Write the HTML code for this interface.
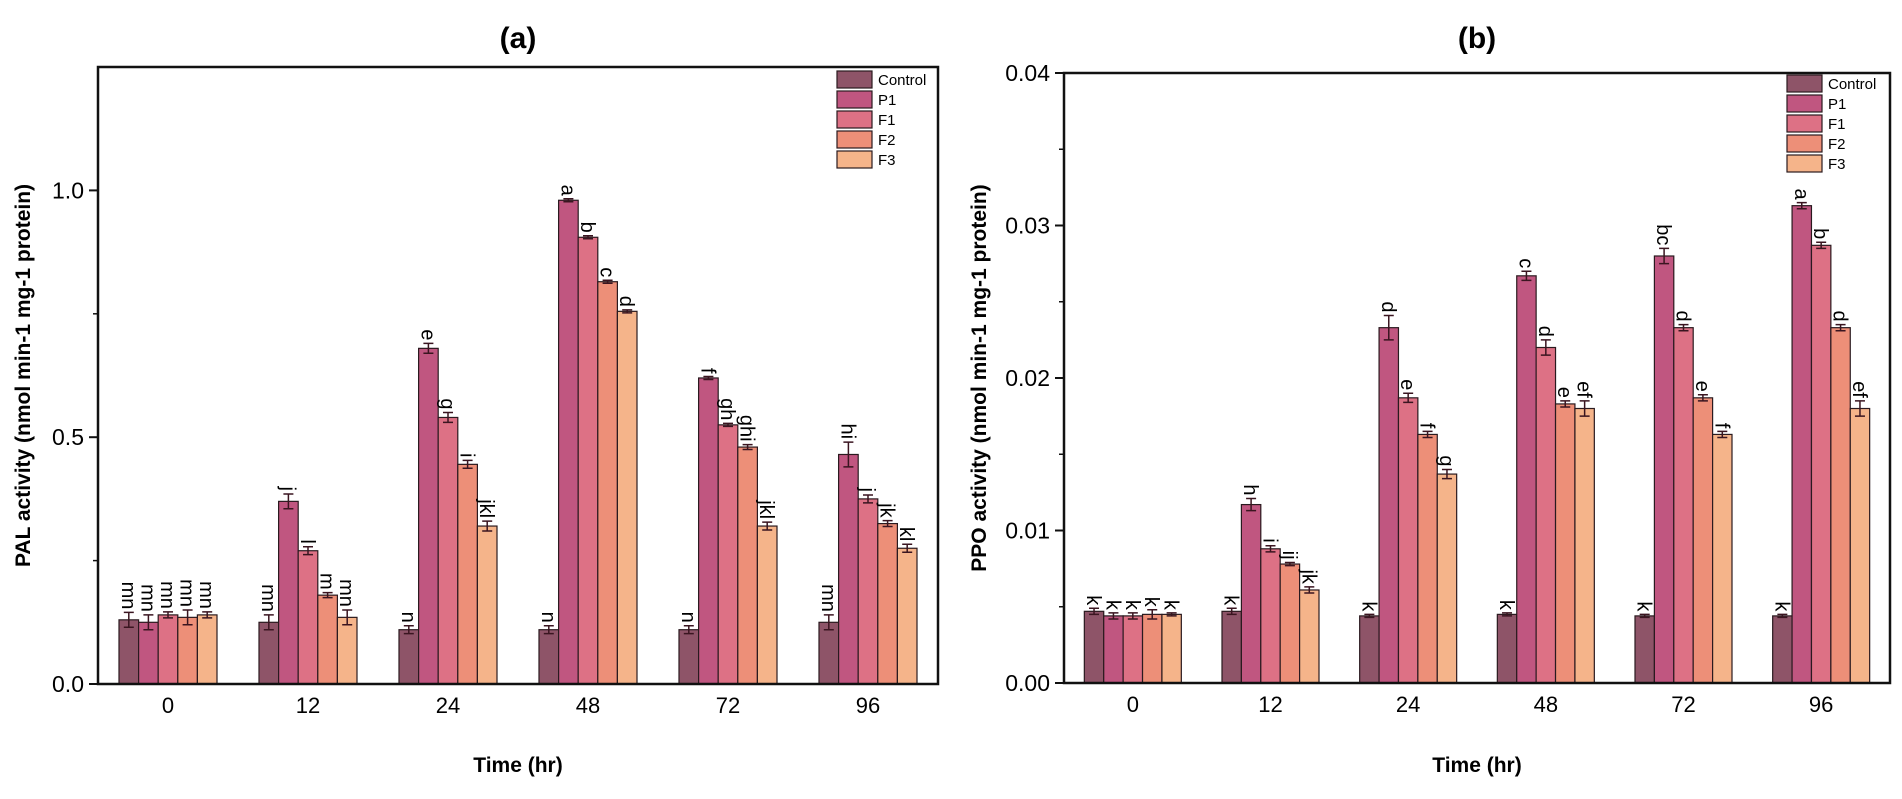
<!DOCTYPE html>
<html><head><meta charset="utf-8"><style>
html,body{margin:0;padding:0;background:#fff;}
svg{display:block;font-family:"Liberation Sans",Arial,sans-serif;}
</style></head><body>
<svg id="fig" width="1902" height="799" viewBox="0 0 1902 799" xmlns="http://www.w3.org/2000/svg"></svg>
<script>
const categories = ["0","12","24","48","72","96"];
const seriesNames = ["Control","P1","F1","F2","F3"];
const seriesColors = ["#8e5468","#c05680","#dd7185","#ed8f78","#f5b48a"];

const palControl = [0.13,0.125,0.11,0.11,0.11,0.125];
const palP1 = [0.125,0.37,0.68,0.98,0.62,0.465];
const palF1 = [0.14,0.27,0.54,0.905,0.525,0.375];
const palF2 = [0.135,0.18,0.445,0.815,0.48,0.325];
const palF3 = [0.14,0.135,0.32,0.755,0.32,0.275];
const palErrControl = [0.015,0.015,0.008,0.008,0.008,0.015];
const palErrP1 = [0.015,0.015,0.01,0.003,0.003,0.025];
const palErrF1 = [0.006,0.008,0.01,0.003,0.003,0.008];
const palErrF2 = [0.015,0.005,0.008,0.003,0.005,0.006];
const palErrF3 = [0.006,0.015,0.01,0.003,0.008,0.008];
const palLetters = [["mn","mn","mn","mn","mn"],["mn","j","l","m","mn"],["n","e","g","i","jkl"],["n","a","b","c","d"],["n","f","gh","ghi","jkl"],["mn","hi","j","jk","kl"]];
const palTicks = ["0.0","0.5","1.0"];
const palTickValues = [0,0.5,1.0];

const ppoControl = [0.0047,0.0047,0.0044,0.0045,0.0044,0.0044];
const ppoP1 = [0.0044,0.0117,0.0233,0.0267,0.0280,0.0313];
const ppoF1 = [0.0044,0.0088,0.0187,0.0220,0.0233,0.0287];
const ppoF2 = [0.0045,0.0078,0.0163,0.0183,0.0187,0.0233];
const ppoF3 = [0.0045,0.0061,0.0137,0.0180,0.0163,0.0180];
const ppoErrControl = [0.0002,0.0002,0.0001,0.0001,0.0001,0.0001];
const ppoErrP1 = [0.0002,0.0004,0.0008,0.0003,0.0005,0.0002];
const ppoErrF1 = [0.0002,0.0002,0.0003,0.0005,0.0002,0.0002];
const ppoErrF2 = [0.0003,0.0001,0.0002,0.0002,0.0002,0.0002];
const ppoErrF3 = [0.0001,0.0002,0.0003,0.0005,0.0002,0.0005];
const ppoLetters = [["k","k","k","k","k"],["k","h","i","ij","jk"],["k","d","e","f","g"],["k","c","d","e","ef"],["k","bc","d","e","f"],["k","a","b","d","ef"]];
const ppoTicks = ["0.00","0.01","0.02","0.03","0.04"];
const ppoTickValues = [0,0.01,0.02,0.03,0.04];

const NS = "http://www.w3.org/2000/svg";
const svg = document.getElementById("fig");
function mk(tag, attrs, parent){
  const e = document.createElementNS(NS, tag);
  for (const k in attrs) e.setAttribute(k, attrs[k]);
  (parent||svg).appendChild(e);
  return e;
}

function drawPanel(cfg){
  const g = mk("g", {});
  
  
  const L=cfg.left,R=cfg.right,T=cfg.top,B=cfg.bottom;
  const y = v => B - (v/cfg.ymax)*(B-T);
  const step = (R-L)/categories.length;
  const xc = i => L + step*(i+0.5);
  const bw = cfg.barW;
  const series = cfg.series, errs = cfg.errs;

  const t = mk("text",{x:(L+R)/2,y:48,"text-anchor":"middle","font-size":30,"font-weight":"bold"},g);
  t.textContent = cfg.title;
  
  

  for (let i=0;i<categories.length;i++){
    for (let s=0;s<series.length;s++){
      const v = series[s][i];
      const bx = xc(i) - bw*2.5 + s*bw;
      const r = mk("rect",{x:bx,y:y(v),width:bw,height:B-y(v),fill:seriesColors[s],stroke:"#2a1a1f","stroke-width":1.2},g);
      
      
      const e = errs[s][i], cx = bx+bw/2;
      const eb = mk("path",{d:`M${cx-5},${y(v+e)}H${cx+5}M${cx},${y(v+e)}V${y(v-e)}M${cx-5},${y(v-e)}H${cx+5}`,stroke:"#3a1520","stroke-width":1.5,fill:"none"},g);
      
      
    }
    const xl = mk("text",{x:xc(i),y:B+29,"text-anchor":"middle","font-size":22},g);
    xl.textContent = categories[i];
    
    
  }
  // letters drawn after bars so they are not covered
  for (let i=0;i<categories.length;i++){
    for (let s=0;s<series.length;s++){
      const v = series[s][i], e = errs[s][i];
      const cx = xc(i) - bw*2.5 + s*bw + bw/2;
      const ly = y(v+e)-3, lx = cx-7;
      const lt = mk("text",{x:lx,y:ly,"text-anchor":"end","font-size":20,transform:`rotate(90 ${lx} ${ly})`},g);
      lt.textContent = cfg.letters[i][s];
      
      
    }
  }

  const fr = mk("rect",{x:L,y:T,width:R-L,height:B-T,fill:"none",stroke:"#111","stroke-width":2.5},g);
  
  

  for (let k=0;k<cfg.tickValues.length;k++){
    const yy = y(cfg.tickValues[k]);
    mk("line",{x1:L-9,x2:L,y1:yy,y2:yy,stroke:"#111","stroke-width":2},g);
    const tl = mk("text",{x:L-14,y:yy+8,"text-anchor":"end","font-size":23},g);
    tl.textContent = cfg.ticks[k];
    
    
  }
  for (let v=cfg.minor; v<cfg.ymax-1e-9; v+=cfg.minor*2){
    const yy = y(v);
    mk("line",{x1:L-5,x2:L,y1:yy,y2:yy,stroke:"#111","stroke-width":1.5},g);
  }

  const xt = mk("text",{x:(L+R)/2,y:772,"text-anchor":"middle","font-size":21,"font-weight":"bold"},g);
  xt.textContent = "Time (hr)";
  
  
  const ycx = cfg.yTitleX, ycy = (T+B)/2;
  const yt = mk("text",{x:ycx,y:ycy,"text-anchor":"middle","font-size":21,"font-weight":"bold",transform:`rotate(-90 ${ycx} ${ycy})`},g);
  yt.textContent = cfg.yTitle;
  
  

  for (let s=0;s<seriesNames.length;s++){
    const ly = cfg.legY + s*20;
    const lg = mk("g",{},g);
    
    
    mk("rect",{x:cfg.legX,y:ly,width:35,height:17,fill:seriesColors[s],stroke:"#2a1a1f","stroke-width":1.2},lg);
    const tx = mk("text",{x:cfg.legX+41,y:ly+14,"font-size":15},lg);
    tx.textContent = seriesNames[s];
  }
}

drawPanel({name:"pal-chart",title:"(a)",left:98,right:938,top:67,bottom:684,ymax:1.25,barW:19.6,
  series:[palControl,palP1,palF1,palF2,palF3],errs:[palErrControl,palErrP1,palErrF1,palErrF2,palErrF3],
  letters:palLetters,ticks:palTicks,tickValues:palTickValues,minor:0.25,yTitleX:30,
  yTitle:"PAL activity (nmol min-1 mg-1 protein)",legX:837,legY:71});
drawPanel({name:"ppo-chart",title:"(b)",left:1064,right:1890,top:73,bottom:683,ymax:0.04,barW:19.4,
  series:[ppoControl,ppoP1,ppoF1,ppoF2,ppoF3],errs:[ppoErrControl,ppoErrP1,ppoErrF1,ppoErrF2,ppoErrF3],
  letters:ppoLetters,ticks:ppoTicks,tickValues:ppoTickValues,minor:0.005,yTitleX:986,
  yTitle:"PPO activity (nmol min-1 mg-1 protein)",legX:1787,legY:75});
</script>
</body></html>
